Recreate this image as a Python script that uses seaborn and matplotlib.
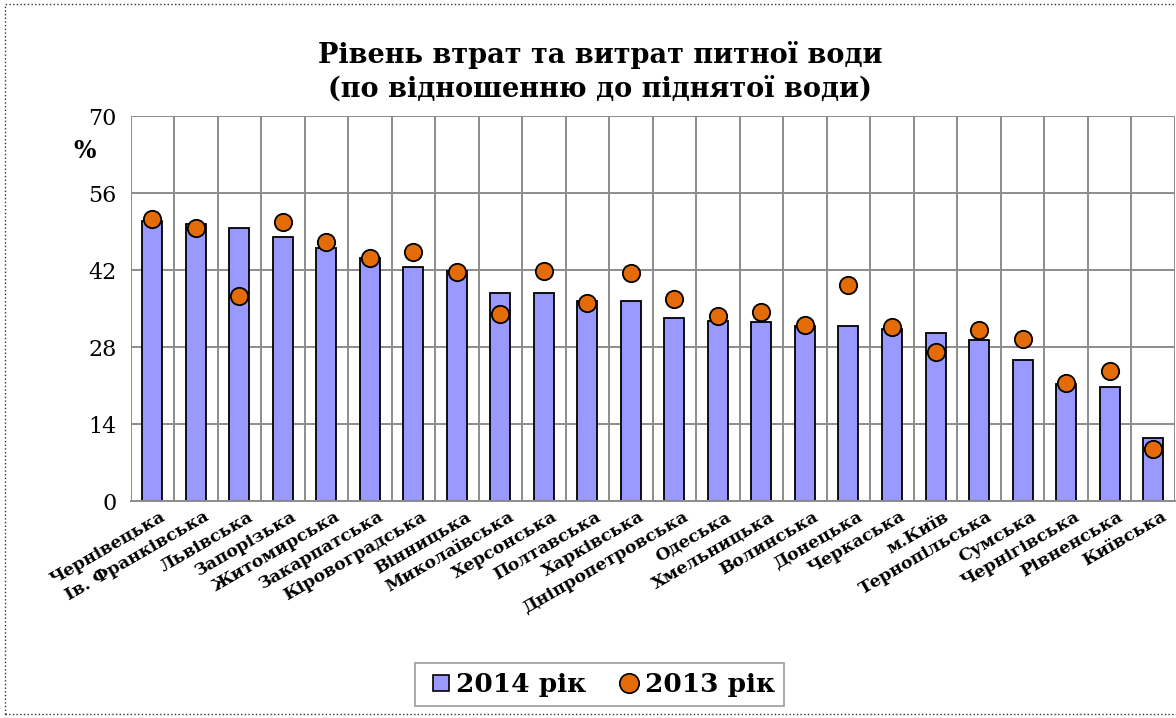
import numpy as np
import pandas as pd
import matplotlib
matplotlib.use("Agg")
import matplotlib.pyplot as plt
import matplotlib.transforms as mtransforms
import seaborn as sns
from matplotlib.patches import Rectangle
from matplotlib.lines import Line2D

regions = ["Чернівецька", "Ів. Франківська", "Львівська", "Запорізька", "Житомирська",
           "Закарпатська", "Кіровоградська", "Вінницька", "Миколаївська", "Херсонська",
           "Полтавська", "Харківська", "Дніпропетровська", "Одеська", "Хмельницька",
           "Волинська", "Донецька", "Черкаська", "м.Київ", "Тернопільська", "Сумська",
           "Чернігівська", "Рівненська", "Київська"]
loss_2014 = [51.0, 50.5, 49.7, 48.1, 46.0, 44.3, 42.6, 41.9, 37.8, 37.8, 36.4, 36.4,
             33.3, 32.7, 32.5, 31.9, 31.9, 31.4, 30.5, 29.3, 25.7, 21.3, 20.7, 11.5]
loss_2013 = [51.4, 49.6, 37.4, 50.8, 47.2, 44.3, 45.4, 41.7, 34.0, 41.8, 36.0, 41.5,
             36.8, 33.6, 34.4, 32.1, 39.3, 31.6, 27.1, 31.1, 29.5, 21.5, 23.6, 9.5]
y_ticks = [0, 14, 28, 42, 56, 70]

df = pd.DataFrame({"region": regions, "y2014": loss_2014, "y2013": loss_2013})

sns.set_style("white")
plt.rcParams["font.family"] = ["DejaVu Serif"]
plt.rcParams["text.color"] = "black"
plt.rcParams["xtick.labelcolor"] = "black"
plt.rcParams["ytick.labelcolor"] = "black"

bar_color = "#9999FF"
dot_color = "#E36C09"
grid_color = "#8c8c8c"

fig = plt.figure(figsize=(11.76, 7.18), dpi=100)
ax = fig.add_axes([0.111, 0.302, 0.888, 0.536])

sns.barplot(data=df, x="region", y="y2014", color=bar_color, width=0.46,
            edgecolor="black", linewidth=1.3, saturation=1, ax=ax, zorder=2)
sns.stripplot(data=df, x="region", y="y2013", jitter=False, color=dot_color,
              size=12.5, edgecolor="black", linewidth=1.3, ax=ax, zorder=3)

ax.set_xlim(-0.5, len(regions) - 0.5)
ax.set_ylim(0, 70)
ax.set_yticks(y_ticks)
ax.set_yticklabels([str(t) for t in y_ticks], fontsize=16)
ax.set_xticks(np.arange(len(regions)))
ax.set_xticklabels(regions, rotation=30, ha="right", rotation_mode="anchor",
                   fontsize=12.5, fontweight="bold")
ax.set_xticks(np.arange(len(regions) + 1) - 0.5, minor=True)
ax.tick_params(axis="x", which="major", length=0, pad=5)
ax.tick_params(axis="x", which="minor", length=6, color=grid_color, width=1.3)
ax.tick_params(axis="y", length=6, color=grid_color, width=1.3, pad=4)
# nudge the slanted labels to the right, like the original
# (done after tick_params, which resets the label transforms)
shift = mtransforms.ScaledTranslation(8 / 100, 0, fig.dpi_scale_trans)
for lbl in ax.get_xticklabels():
    lbl.set_transform(lbl.get_transform() + shift)
ax.grid(axis="y", which="major", color=grid_color, linewidth=1.4, zorder=0)
ax.grid(axis="x", which="minor", color=grid_color, linewidth=1.4, zorder=0)
ax.set_axisbelow(True)
for s in ["top", "right", "left"]:
    ax.spines[s].set_visible(False)
ax.spines["bottom"].set_color(grid_color)
ax.spines["bottom"].set_linewidth(1.4)
ax.set_xlabel("")
ax.set_ylabel("")

fig.text(0.072, 0.79, "%", fontsize=17, fontweight="bold", ha="center", va="center")
fig.text(0.51, 0.9, "Рівень втрат та витрат питної води\n(по відношенню до піднятої води)",
         fontsize=19.5, fontweight="bold", ha="center", va="center", linespacing=1.3)

handles = [Line2D([], [], marker="s", linestyle="none", markerfacecolor=bar_color,
                  markeredgecolor="black", markersize=11, markeredgewidth=1.2),
           Line2D([], [], marker="o", linestyle="none", markerfacecolor=dot_color,
                  markeredgecolor="black", markersize=14, markeredgewidth=1.2)]
leg = fig.legend(handles, ["2014 рік", "2013 рік"], loc="center", ncol=2,
                 bbox_to_anchor=(0.51, 0.047), frameon=True, fancybox=False,
                 handletextpad=0.0, handlelength=1.2, columnspacing=1.0, borderpad=0.35,
                 prop={"weight": "bold", "size": 19})
leg.get_frame().set_edgecolor(grid_color)
leg.get_frame().set_linewidth(1.3)

fig.patches.append(Rectangle((0.004, 0.006), 1.0, 0.988, transform=fig.transFigure,
                             fill=False, linestyle=":", linewidth=1.0, edgecolor="#333333"))

fig.savefig("out.png", dpi=100)
